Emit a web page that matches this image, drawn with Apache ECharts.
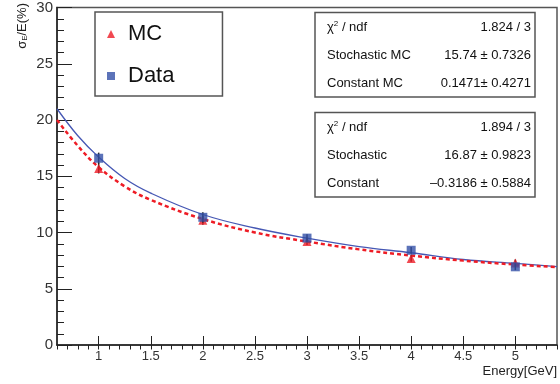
<!DOCTYPE html>
<html>
<head>
<meta charset="utf-8">
<script src="https://cdn.jsdelivr.net/npm/echarts@6/dist/echarts.min.js"></script>
<style>
  html, body { margin: 0; padding: 0; background: #fff; }
  #main { width: 560px; height: 384px; }
</style>
</head>
<body>
<div id="main"></div>
<script>
// beam energies and measured resolution (%)
const energy = [1, 2, 3, 4, 5];
const dataRes = [16.6, 11.35, 9.5, 8.42, 6.95];
const dataErr = [0.5, 0.45, 0.35, 0.3, 0.3];
const mcRes = [15.7, 11.1, 9.2, 7.7, 7.3];
const mcErr = [0.45, 0.4, 0.3, 0.3, 0.3];
// fit curves
const fitE = [0.6, 0.8, 1, 1.25, 1.5, 2, 2.5, 3, 3.5, 4, 4.5, 5, 5.4];
const fitData = [21.0, 18.6, 16.7, 14.8, 13.5, 11.6, 10.4, 9.5, 8.75, 8.2, 7.6, 7.25, 6.97];
const fitMC = [20.0, 17.7, 15.8, 14.1, 12.9, 11.2, 10.0, 9.2, 8.5, 7.95, 7.5, 7.15, 6.92];
// axis labels
const xMajor = [1, 1.5, 2, 2.5, 3, 3.5, 4, 4.5, 5];
const xLabels = [1, 1.5, 2, 2.5, 3, 3.5, 4, 4.5, 5];
// stat boxes
const statsMC = [['1.824 / 3'], ['Stochastic MC', '15.74 \u00b1 0.7326'], ['Constant MC', '0.1471\u00b1 0.4271']];
const statsData = [['1.894 / 3'], ['Stochastic', '16.87 \u00b1 0.9823'], ['Constant', '\u20130.3186 \u00b1 0.5884']];

const FONT = 'Liberation Sans';
const BLUE = '#3350a8';
const BLUE_LINE = '#4658b4';
const RED = '#ee1c25';
const PLOT_H = 384 - 3 - 39;

function pairs(xs, ys) { return xs.map((x, i) => [x, ys[i]]); }
function errs(xs, ys, es) { return xs.map((x, i) => [x, ys[i] - es[i], ys[i] + es[i]]); }

function errBar(params, api) {
  const lo = api.coord([api.value(0), api.value(1)]);
  const hi = api.coord([api.value(0), api.value(2)]);
  return {
    type: 'line',
    shape: { x1: lo[0], y1: lo[1], x2: hi[0], y2: hi[1] },
    style: { stroke: '#222', lineWidth: 1.5 }
  };
}

function statBox(top, rows) {
  const els = [{
    type: 'rect', shape: { x: 315, y: top, width: 220, height: 84.5 },
    style: { fill: '#fff', stroke: '#555', lineWidth: 1.5 }
  }];
  const ys = [top + 14.5, top + 42.5, top + 70.5];
  els.push({
    type: 'text', x: 327, y: ys[0],
    style: {
      text: '{a|\u03c7}{s|2}{a| / ndf}', textVerticalAlign: 'middle',
      rich: { a: { fontFamily: FONT, fontSize: 13, fill: '#111' }, s: { fontFamily: FONT, fontSize: 8, fill: '#111', verticalAlign: 'top', padding: [0, 0, 6, 0] } }
    }
  });
  els.push({ type: 'text', x: 531, y: ys[0], style: { text: rows[0][0], font: '13px ' + FONT, fill: '#111', textAlign: 'right', textVerticalAlign: 'middle' } });
  for (let i = 1; i < 3; i++) {
    els.push({ type: 'text', x: 327, y: ys[i], style: { text: rows[i][0], font: '13px ' + FONT, fill: '#111', textVerticalAlign: 'middle' } });
    els.push({ type: 'text', x: 531, y: ys[i], style: { text: rows[i][1], font: '13px ' + FONT, fill: '#111', textAlign: 'right', textVerticalAlign: 'middle' } });
  }
  return els;
}

const chart = echarts.init(document.getElementById('main'));
chart.setOption({
  animation: false,
  textStyle: { fontFamily: FONT },
  grid: { left: 57, right: -1, top: 3, bottom: 39, show: true, borderColor: '#555', borderWidth: 1.5 },
  legend: {
    left: 95, top: 12, orient: 'vertical',
    padding: [10, 48, 8, 12], itemGap: 18, itemWidth: 8, itemHeight: 8,
    borderColor: '#555', borderWidth: 1.5, backgroundColor: '#fff',
    textStyle: { fontSize: 22, lineHeight: 24, color: '#111', padding: [0, 0, 0, 8] },
    data: [{ name: 'MC', icon: 'triangle' }, { name: 'Data', icon: 'rect' }]
  },
  xAxis: [{
    type: 'value', min: 0.6, max: 5.4, position: 'bottom',
    name: 'Energy[GeV]', nameLocation: 'end', nameGap: 0,
    nameTextStyle: { fontSize: 13, color: '#222', align: 'right', verticalAlign: 'top', padding: [20, 0, 0, 0] },
    axisLine: { show: true, onZero: false, lineStyle: { color: '#222', width: 1.5 } },
    axisTick: { show: true, inside: true, length: 9, customValues: xMajor, lineStyle: { color: '#222' } },
    axisLabel: { customValues: xLabels, fontSize: 13, color: '#333', margin: 5 },
    splitLine: { show: false }
  }, {
    // minor ticks every 0.1: a top axis shifted down onto the bottom edge
    type: 'value', min: 0.6, max: 5.4, interval: 0.1, position: 'top', offset: -PLOT_H,
    axisLine: { show: false, onZero: false },
    axisTick: { show: true, inside: false, length: 4.5, lineStyle: { color: '#222' } },
    axisLabel: { show: false },
    splitLine: { show: false }
  }],
  yAxis: {
    type: 'value', min: 0, max: 30, interval: 5,
    axisLine: { show: true, lineStyle: { color: '#222', width: 1.5 } },
    axisTick: { show: true, inside: true, length: 15, lineStyle: { color: '#222' } },
    minorTick: { show: true, splitNumber: 5, length: 7, lineStyle: { color: '#222' } },
    axisLabel: { fontSize: 15, color: '#333', margin: 4 },
    splitLine: { show: false }
  },
  graphic: [
    {
      type: 'text', x: 22, y: 3, rotation: Math.PI / 2,
      style: {
        text: '{a|\u03c3}{s|E}{a|/E(%)}', textAlign: 'right', textVerticalAlign: 'middle',
        rich: { a: { fontFamily: FONT, fontSize: 13, fill: '#222' }, s: { fontFamily: FONT, fontSize: 8, fill: '#222', verticalAlign: 'bottom', padding: [6, 0, 0, 0] } }
      }
    },
    ...statBox(12.5, statsMC),
    ...statBox(112.5, statsData)
  ],
  series: [
    { name: 'Data fit', type: 'line', data: pairs(fitE, fitData), smooth: 0.4, showSymbol: false, lineStyle: { color: BLUE_LINE, width: 1.3 }, z: 2 },
    { name: 'MC fit', type: 'line', xAxisIndex: 1, data: pairs(fitE, fitMC), smooth: 0.4, showSymbol: false, lineStyle: { color: RED, width: 2.5, type: [4, 3] }, z: 3 },
    { name: 'MC err', type: 'custom', renderItem: errBar, data: errs(energy, mcRes, mcErr), z: 4 },
    { name: 'MC', type: 'scatter', data: pairs(energy, mcRes), symbol: 'triangle', symbolSize: 9, itemStyle: { color: RED }, z: 5 },
    { name: 'Data err', type: 'custom', renderItem: errBar, data: errs(energy, dataRes, dataErr), z: 6 },
    { name: 'Data', type: 'scatter', data: pairs(energy, dataRes), symbol: 'rect', symbolSize: 9, itemStyle: { color: BLUE }, z: 7 }
  ]
});
</script>
</body>
</html>
